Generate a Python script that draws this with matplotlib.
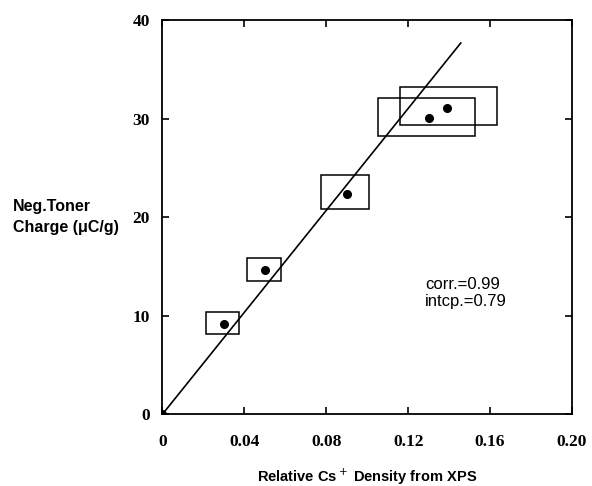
import matplotlib
matplotlib.use("Agg")
from matplotlib import pyplot as plt
from matplotlib.patches import Rectangle

# measured points (Cs+ density, toner charge)
cs_density = [0.0, 0.030, 0.050, 0.090, 0.130, 0.139]
charge = [0.0, 9.2, 14.7, 22.4, 30.1, 31.1]

# error boxes: x0, x1, y0, y1
box_x0 = [0.0213, 0.0415, 0.0774, 0.1054, 0.1160]
box_x1 = [0.0375, 0.0579, 0.1009, 0.1526, 0.1635]
box_y0 = [8.13, 13.56, 20.84, 28.25, 29.37]
box_y1 = [10.43, 15.90, 24.33, 32.08, 33.20]

# fit line end points
fit_x = [0.0, 0.1457]
fit_y = [0.0, 37.7]

xticks = [0, 0.04, 0.08, 0.12, 0.16, 0.20]
xticklabels = ["0", "0.04", "0.08", "0.12", "0.16", "0.20"]
yticks = [0, 10, 20, 30, 40]

sans = "Liberation Sans"

fig = plt.figure(figsize=(5.92, 4.86), dpi=100)
ax = fig.add_axes([0.2743, 0.1475, 0.6919, 0.8107])

ax.plot(fit_x, fit_y, color="black", lw=1.2)
ax.plot(cs_density, charge, "o", color="black", ms=5.5)

for x0, x1, y0, y1 in zip(box_x0, box_x1, box_y0, box_y1):
    ax.add_patch(Rectangle((x0, y0), x1 - x0, y1 - y0, fill=False,
                           edgecolor="black", lw=1.1))

ax.set_xlim(0, 0.20)
ax.set_ylim(0, 40)
ax.set_xticks(xticks)
ax.set_xticklabels(xticklabels)
ax.set_yticks(yticks)
ax.tick_params(direction="in", length=5, width=1.2, top=True, right=True,
               pad=14)
ax.tick_params(axis="y", pad=9)
for lab in ax.get_xticklabels() + ax.get_yticklabels():
    lab.set_family("Liberation Serif")
    lab.set_fontweight("bold")
    lab.set_fontsize(12.5)
for s in ax.spines.values():
    s.set_linewidth(1.3)

ax.text(0.1282, 13.2, "corr.=0.99", fontsize=12, family=sans,
        va="center", ha="left")
ax.text(0.1282, 11.5, "intcp.=0.79", fontsize=12, family=sans,
        va="center", ha="left")

ax.set_xlabel("Relative Cs$^+$ Density from XPS", fontsize=10.5,
              family=sans, fontweight="bold", labelpad=12)
fig.text(13 / 592, 1 - 217 / 486, "Neg.Toner\nCharge (\u03bcC/g)",
         fontsize=11.5, family=sans, fontweight="bold", ha="left",
         va="center", linespacing=1.5)

plt.savefig("out.png", dpi=100)
